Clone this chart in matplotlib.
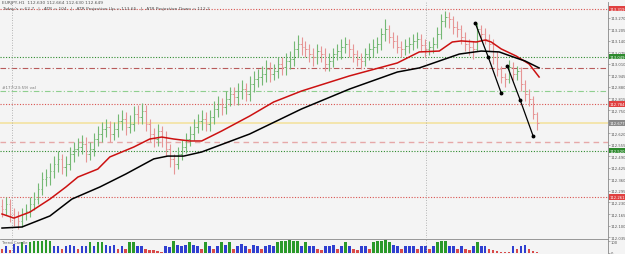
import numpy as np
import matplotlib
matplotlib.use("Agg")
import matplotlib.pyplot as plt
from matplotlib.transforms import blended_transform_factory

# ---- price bars (EURJPY) ----
first_open = 112.21
closes = [112.193, 112.221, 112.165, 112.148, 112.126, 112.165, 112.182, 112.221, 112.249, 112.306,
          112.362, 112.373, 112.407, 112.446, 112.475, 112.429, 112.446, 112.503, 112.531, 112.542,
          112.559, 112.503, 112.531, 112.587, 112.615, 112.643, 112.655, 112.615, 112.643, 112.688,
          112.700, 112.655, 112.671, 112.728, 112.711, 112.745, 112.671, 112.615, 112.587, 112.632,
          112.598, 112.531, 112.475, 112.446, 112.503, 112.542, 112.587, 112.615, 112.655, 112.688,
          112.700, 112.671, 112.711, 112.756, 112.784, 112.767, 112.812, 112.840, 112.823, 112.857,
          112.868, 112.840, 112.897, 112.925, 112.936, 112.953, 112.981, 112.953, 112.970, 113.009,
          112.992, 113.026, 113.037, 113.094, 113.122, 113.105, 113.094, 113.065, 113.049, 113.082,
          113.065, 113.009, 113.026, 113.065, 113.082, 113.105, 113.122, 113.094, 113.065, 113.037,
          113.026, 113.065, 113.094, 113.105, 113.122, 113.178, 113.206, 113.161, 113.139, 113.105,
          113.094, 113.110, 113.122, 113.139, 113.150, 113.116, 113.094, 113.105, 113.122, 113.178,
          113.251, 113.274, 113.262, 113.217, 113.206, 113.161, 113.122, 113.105, 113.094, 113.206,
          113.178, 113.150, 113.122, 113.049, 112.981, 112.936, 112.925, 112.992, 112.953, 112.970,
          112.897, 112.840, 112.812, 112.728, 112.677]
highs = [112.25, 112.26, 112.25, 112.20, 112.18, 112.20, 112.22, 112.26, 112.29, 112.34,
         112.40, 112.42, 112.45, 112.49, 112.52, 112.50, 112.49, 112.54, 112.57, 112.59,
         112.61, 112.60, 112.57, 112.62, 112.66, 112.68, 112.70, 112.69, 112.68, 112.73,
         112.75, 112.74, 112.72, 112.77, 112.78, 112.79, 112.78, 112.70, 112.65, 112.67,
         112.66, 112.63, 112.56, 112.50, 112.54, 112.58, 112.62, 112.66, 112.70, 112.73,
         112.75, 112.74, 112.75, 112.80, 112.83, 112.82, 112.86, 112.88, 112.88, 112.90,
         112.92, 112.90, 112.94, 112.97, 112.98, 113.00, 113.03, 113.02, 113.01, 113.05,
         113.05, 113.07, 113.08, 113.14, 113.17, 113.16, 113.14, 113.12, 113.10, 113.12,
         113.11, 113.10, 113.07, 113.10, 113.12, 113.15, 113.16, 113.15, 113.12, 113.09,
         113.07, 113.10, 113.13, 113.15, 113.16, 113.21, 113.26, 113.23, 113.19, 113.17,
         113.14, 113.15, 113.16, 113.18, 113.19, 113.18, 113.15, 113.14, 113.16, 113.22,
         113.29, 113.31, 113.30, 113.28, 113.25, 113.23, 113.19, 113.15, 113.14, 113.24,
         113.23, 113.21, 113.18, 113.15, 113.08, 113.00, 112.96, 113.03, 113.02, 113.00,
         112.99, 112.92, 112.87, 112.83, 112.74]
lows = [112.15, 112.16, 112.12, 112.10, 112.08, 112.09, 112.13, 112.15, 112.19, 112.22,
        112.27, 112.32, 112.33, 112.37, 112.40, 112.39, 112.38, 112.41, 112.46, 112.49,
        112.50, 112.46, 112.47, 112.49, 112.55, 112.57, 112.60, 112.57, 112.58, 112.60,
        112.64, 112.61, 112.62, 112.63, 112.67, 112.67, 112.63, 112.57, 112.54, 112.55,
        112.54, 112.49, 112.43, 112.39, 112.42, 112.47, 112.51, 112.55, 112.58, 112.62,
        112.64, 112.63, 112.63, 112.67, 112.71, 112.72, 112.73, 112.77, 112.78, 112.78,
        112.81, 112.80, 112.80, 112.85, 112.88, 112.89, 112.91, 112.91, 112.92, 112.93,
        112.95, 112.95, 112.98, 113.00, 113.05, 113.06, 113.05, 113.02, 113.00, 113.01,
        113.02, 112.97, 112.97, 112.99, 113.03, 113.04, 113.07, 113.05, 113.02, 113.00,
        112.98, 113.00, 113.03, 113.05, 113.07, 113.09, 113.14, 113.13, 113.10, 113.07,
        113.05, 113.06, 113.07, 113.09, 113.10, 113.08, 113.05, 113.06, 113.07, 113.10,
        113.15, 113.22, 113.21, 113.18, 113.16, 113.12, 113.08, 113.06, 113.04, 113.08,
        113.14, 113.12, 113.08, 113.01, 112.94, 112.90, 112.88, 112.90, 112.92, 112.92,
        112.86, 112.80, 112.77, 112.70, 112.64]

# ---- moving averages (bar index, price) ----
ma_red_idx = [0, 3, 7, 12, 16, 19, 24, 27, 33, 37, 40, 43, 47, 50, 55, 62, 68, 75, 87, 99,
              104.5, 109.5, 112.75, 115, 118.75, 121, 122.5, 125, 128.75, 132, 134.5]
ma_red_val = [112.165, 112.142, 112.176, 112.249, 112.317, 112.373, 112.418, 112.486, 112.542,
              112.587, 112.598, 112.587, 112.576, 112.576, 112.632, 112.716, 112.795, 112.857,
              112.942, 113.015, 113.077, 113.082, 113.133, 113.139, 113.133, 113.144, 113.133,
              113.094, 113.054, 113.009, 112.936]
ma_black_idx = [0, 5, 12, 17.5, 24.5, 31, 38, 41.5, 45.5, 50, 62, 75, 87, 99, 104.5, 109.5,
                114.5, 120, 124.5, 128.75, 131, 134.5]
ma_black_val = [112.086, 112.092, 112.154, 112.249, 112.317, 112.390, 112.475, 112.491, 112.491,
                112.514, 112.615, 112.756, 112.868, 112.964, 112.987, 113.026, 113.065, 113.082,
                113.077, 113.043, 113.026, 112.987]

# ---- hand-drawn trend lines (start, mid, end) ----
trend1_idx = [118.5, 121.75, 125]
trend1_val = [113.24, 113.049, 112.846]
trend2_idx = [126.5, 129.75, 133]
trend2_val = [113.00, 112.807, 112.604]

# ---- horizontal levels ----
level_red = [113.319, 112.784, 112.261]
level_green = [113.049, 112.520]
level_brown = 112.987
level_val = 112.857
level_pink = 112.570
current_price = 112.677

# ---- volumes ----
volumes = [30, 60, 25, 75, 60, 95, 65, 90, 100, 105, 100, 110, 105, 60, 55, 30, 60, 70, 55, 35,
           60, 55, 90, 60, 95, 90, 65, 60, 70, 35, 60, 30, 90, 90, 60, 55, 30, 25, 25, 15,
           8, 60, 50, 100, 65, 55, 70, 90, 65, 60, 35, 90, 60, 30, 60, 95, 65, 95, 30, 60,
           75, 55, 35, 65, 60, 30, 60, 65, 55, 95, 100, 105, 110, 100, 105, 60, 95, 55, 60, 30,
           25, 60, 55, 65, 30, 60, 95, 60, 30, 25, 55, 60, 30, 95, 100, 105, 110, 95, 65, 55,
           30, 60, 55, 60, 35, 60, 55, 30, 60, 90, 100, 105, 60, 55, 35, 60, 30, 25, 55, 90,
           60, 55, 35, 25, 20, 10, 8, 10, 55, 30, 60, 65, 30, 20, 10]

day_breaks = [2.5, 106.25]
y_ticks = [112.035 + 0.065 * k for k in range(21)]

BG = '#f4f4f4'
fig = plt.figure(figsize=(6.25, 2.55), dpi=100, facecolor=BG)
ax = fig.add_axes([0, 1 - 239 / 255, 608 / 625, 236 / 255], facecolor=BG)
vax = fig.add_axes([0, 1 / 255, 608 / 625, 14 / 255], facecolor=BG)

idx = np.arange(len(closes))
opens = np.array([first_open] + closes[:-1])
closes_a = np.array(closes)
up = closes_a >= opens
bar_cols = np.where(up, '#74b874', '#e69595')

# levels first so bars draw on top
for lv in level_red:
    ax.axhline(lv, color='#d9534f', lw=0.8, ls=(0, (1, 1.5)))
for lv in level_green:
    ax.axhline(lv, color='#2d8a2d', lw=0.8, ls=(0, (1, 1.5)))
ax.axhline(level_brown, color='#b85a5a', lw=0.8, ls=(0, (5, 2, 1, 2)))
ax.axhline(level_val, color='#8fcf8f', lw=0.8, ls=(0, (5, 2, 1, 2)))
ax.axhline(level_pink, color='#e6a8a8', lw=1.0, ls=(0, (4, 3)))
ax.axhline(current_price, color='#f3e3a0', lw=1.2)
for d in day_breaks:
    ax.axvline(d, color='#a0a0a0', lw=0.6, ls=(0, (1, 2)))
    vax.axvline(d, color='#a0a0a0', lw=0.6, ls=(0, (1, 2)))

ax.vlines(idx, lows, highs, colors=bar_cols, lw=0.8)
ax.hlines(opens, idx - 0.35, idx, colors=bar_cols, lw=0.7)
ax.hlines(closes_a, idx, idx + 0.35, colors=bar_cols, lw=0.7)

ax.plot(ma_red_idx, ma_red_val, color='#cc1111', lw=1.1)
ax.plot(ma_black_idx, ma_black_val, color='black', lw=1.1)

for tx, ty in [(trend1_idx, trend1_val), (trend2_idx, trend2_val)]:
    ax.plot(tx, ty, color='black', lw=0.9, marker='o', ms=1.8)

boxes = [(level_red[0], '#e04040'), (level_green[0], '#2d8a2d'), (level_red[1], '#e04040'),
         (current_price, '#8a8a8a'), (level_green[1], '#2d8a2d'), (level_red[2], '#e04040')]
box_vals = [b[0] for b in boxes]
# tick labels that sit under a price box are hidden by it
tick_labels = ['' if min(abs(t - b) for b in box_vals) < 0.02 else f"{t:.3f}" for t in y_ticks]

ax.set_xlim(-0.5, 151.75)
ax.set_ylim(112.030, 113.358)
ax.yaxis.tick_right()
ax.set_yticks(y_ticks)
ax.set_yticklabels(tick_labels, fontsize=2.7)
ax.tick_params(axis='y', length=1.2, width=0.4, pad=0.6, colors='#777777', labelcolor='#555555')
ax.set_xticks([])
for s in ['top', 'left', 'bottom']:
    ax.spines[s].set_visible(False)
ax.spines['right'].set_color('#888888')
ax.spines['right'].set_linewidth(0.6)

# price boxes on the right scale
tr = blended_transform_factory(ax.transAxes, ax.transData)
for val, col in boxes:
    ax.text(1.002, val, f"{val:.3f}", transform=tr, fontsize=2.7, color='white', va='center',
            ha='left', clip_on=False,
            bbox=dict(boxstyle='square,pad=0.15', fc=col, ec='none'))

ax.text(0.004, level_val + 0.012, '#177(23:59) val', fontsize=3, color='#777777',
        transform=tr, va='bottom')

# header
fig.text(0.004, 0.995, 'EURJPY,H1  112.630 112.664 112.630 112.649', fontsize=3.2,
         color='#555555', va='top')
fig.text(0.004, 0.972, "Today's = 62.7   |   ATR = 104   |   ATR Projection Up = 113.65   |   "
         "ATR Projection Down = 112.2", fontsize=3.2, color='#555555', va='top')

# volume pane
vcols = ['#2a9a2a' if v >= 85 else ('#d84a4a' if v < 40 else '#2f3fd0') for v in volumes]
vax.bar(idx, volumes, width=0.65, color=vcols)
vax.set_xlim(-0.5, 151.75)
vax.set_ylim(0, 118)
vax.yaxis.tick_right()
vax.set_yticks([0, 100])
vax.set_yticklabels(['0', '100'], fontsize=2.7)
vax.tick_params(axis='y', length=1.2, width=0.4, pad=0.6, colors='#777777', labelcolor='#555555')
vax.set_xticks([])
for s in ['left', 'bottom']:
    vax.spines[s].set_visible(False)
vax.spines['top'].set_color('#888888')
vax.spines['top'].set_linewidth(0.6)
vax.spines['right'].set_color('#888888')
vax.spines['right'].set_linewidth(0.6)
vax.text(0.004, 0.95, 'Trend Candle', transform=vax.transAxes, fontsize=2.8, color='#666666',
         va='top')

fig.savefig('out.png', dpi=100, facecolor=BG)
